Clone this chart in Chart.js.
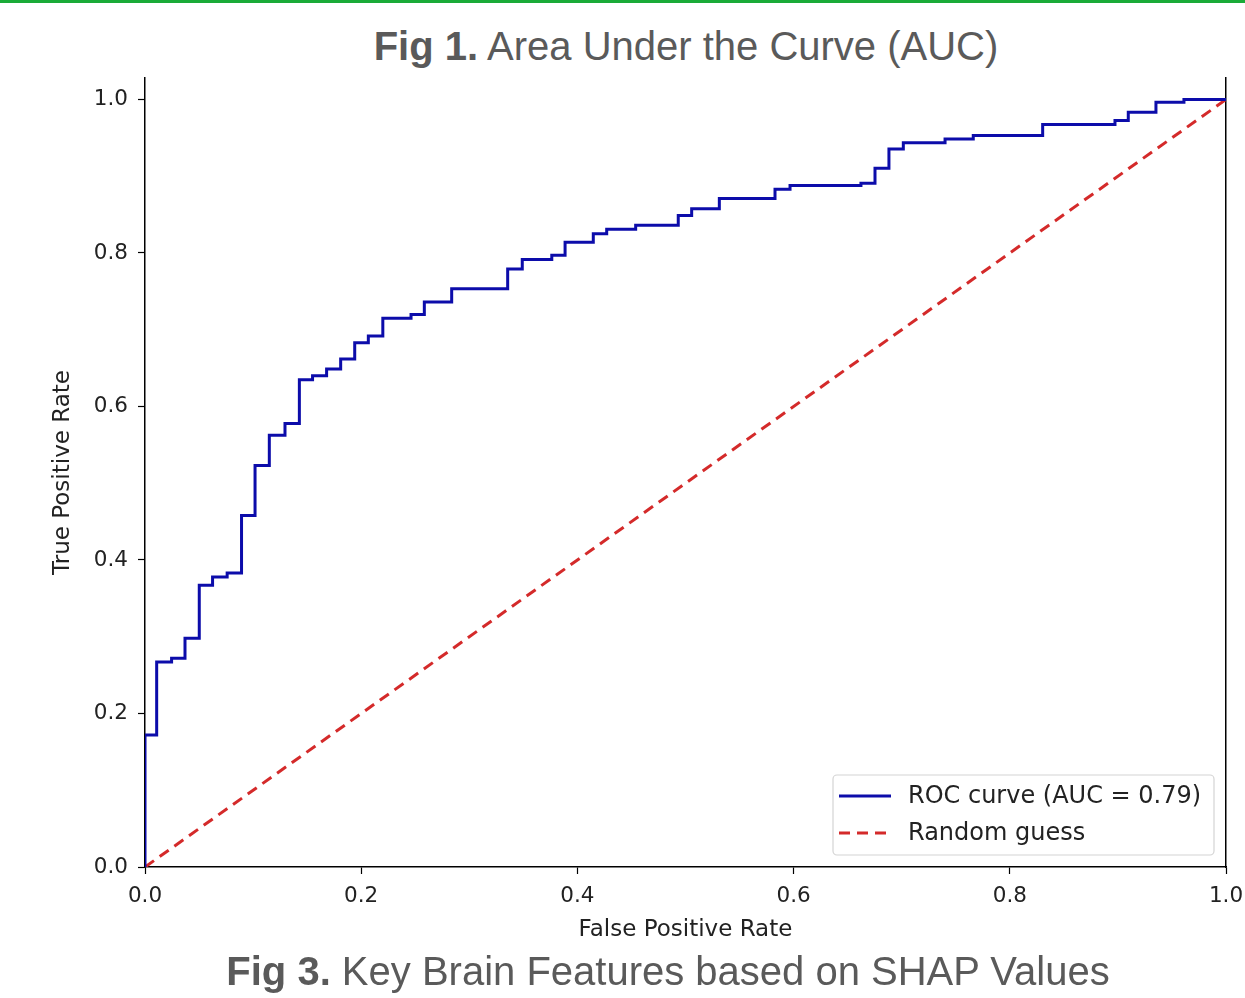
<!DOCTYPE html>
<html>
<head>
<meta charset="utf-8">
<script src="https://cdn.jsdelivr.net/npm/chart.js@4"></script>
<style>
  html, body { margin: 0; padding: 0; background: #fff; }
  #wrap { position: relative; width: 1245px; height: 998px; overflow: hidden; }
  #topbar { position: absolute; left: 0; top: 0; width: 1245px; height: 3px; background: #1aab38; }
  .fig { position: absolute; transform: translateX(-50%); white-space: nowrap;
         font-family: "Liberation Sans", Arial, sans-serif; font-size: 40px; line-height: 40px; color: #5a5a5a; }
  .fig b { font-weight: bold; }
  canvas { position: absolute; left: 0; top: 0; }
</style>
</head>
<body>
<div id="wrap">
  <div id="topbar"></div>
  <div class="fig" style="left:686px; top:26px;"><b>Fig 1.</b> Area Under the Curve (AUC)</div>
  <canvas id="roc" width="1245" height="998"></canvas>
  <div class="fig" style="left:668px; top:951px;"><b>Fig 3.</b> Key Brain Features based on SHAP Values</div>
</div>
<script>
// ROC curve points (false positive rate, true positive rate)
const fpr = [0, 0, 0.0108, 0.0246, 0.037, 0.0502, 0.0625, 0.076, 0.0893, 0.1018,
  0.115, 0.1295, 0.1428, 0.155, 0.168, 0.181, 0.194, 0.2066, 0.22, 0.2461,
  0.2584, 0.2837, 0.3355, 0.349, 0.3763, 0.3886, 0.4147, 0.4271, 0.4539, 0.4933,
  0.5057, 0.5313, 0.5828, 0.5967, 0.6623, 0.6753, 0.6882, 0.7015, 0.7401, 0.7662,
  0.8304, 0.8973, 0.9096, 0.9352, 0.9611, 1.0];
const tpr = [0, 0.172, 0.267, 0.272, 0.298, 0.367, 0.378, 0.383, 0.458, 0.523,
  0.5625, 0.578, 0.635, 0.64, 0.649, 0.662, 0.683, 0.692, 0.715, 0.72,
  0.736, 0.7535, 0.779, 0.7915, 0.797, 0.814, 0.825, 0.831, 0.836, 0.849,
  0.8575, 0.871, 0.883, 0.888, 0.891, 0.9105, 0.9355, 0.9436, 0.9486, 0.953,
  0.9674, 0.9727, 0.9834, 0.9965, 1.0, 1.0];
const randomX = [0, 1];
const randomY = [0, 1];
const xTicks = [0, 0.2, 0.4, 0.6, 0.8, 1.0];
const yTicks = [0, 0.2, 0.4, 0.6, 0.8, 1.0];
const rocLabel = 'ROC curve (AUC = 0.79)';
const randomLabel = 'Random guess';

const tickFont = { family: 'DejaVu Sans', size: 21.5 };
const titleFont = { family: 'DejaVu Sans', size: 23 };

// legend box drawn inside the plot, lower right like matplotlib
const boxLegend = {
  id: 'boxLegend',
  afterDatasetsDraw(chart) {
    const { ctx, chartArea } = chart;
    const w = 381, h = 80;
    const x = chartArea.right - 12 - w;
    const y = chartArea.bottom - 12 - h;
    ctx.save();
    ctx.beginPath();
    ctx.roundRect(x, y, w, h, 4);
    ctx.fillStyle = 'rgba(255,255,255,0.85)';
    ctx.fill();
    ctx.strokeStyle = '#d4d4d4';
    ctx.lineWidth = 1.2;
    ctx.stroke();
    ctx.font = '24px "DejaVu Sans"';
    ctx.textBaseline = 'middle';
    chart.data.datasets.forEach((ds, i) => {
      const ly = y + 21 + i * 37;
      ctx.beginPath();
      ctx.setLineDash(ds.borderDash || []);
      ctx.strokeStyle = ds.borderColor;
      ctx.lineWidth = ds.borderWidth;
      ctx.moveTo(x + 6, ly);
      ctx.lineTo(x + 58, ly);
      ctx.stroke();
      ctx.setLineDash([]);
      ctx.fillStyle = '#222';
      ctx.fillText(ds.label, x + 75, ly + 1);
    });
    ctx.restore();
  }
};

new Chart(document.getElementById('roc'), {
  type: 'line',
  data: {
    datasets: [{
      label: rocLabel,
      data: fpr.map((v, i) => ({ x: v, y: tpr[i] })),
      borderColor: '#0c0caa',
      borderWidth: 3,
      stepped: 'before',
      pointRadius: 0,
      fill: false
    }, {
      label: randomLabel,
      data: randomX.map((v, i) => ({ x: v, y: randomY[i] })),
      borderColor: '#d42a2a',
      borderWidth: 3,
      borderDash: [11, 7],
      pointRadius: 0,
      fill: false
    }]
  },
  options: {
    responsive: false,
    animation: false,
    devicePixelRatio: 1,
    layout: { padding: { top: 78, left: 0, right: 0, bottom: 0 } },
    plugins: { legend: { display: false }, tooltip: { enabled: false } },
    scales: {
      x: {
        type: 'linear',
        min: 0,
        max: 1,
        afterBuildTicks: s => { s.ticks = xTicks.map(v => ({ value: v })); },
        afterFit: s => { s.height = 131; s.paddingLeft = 0; s.paddingRight = 0; },
        ticks: { color: '#222', font: tickFont, padding: 10, maxRotation: 0,
                 callback: v => v.toFixed(1) },
        grid: { drawOnChartArea: false, tickLength: 7, color: '#000', tickWidth: 1.2 },
        border: { color: '#000', width: 1.5 },
        title: { display: true, text: 'False Positive Rate', color: '#222', font: titleFont,
                 padding: { top: 0, bottom: 54 } }
      },
      y: {
        type: 'linear',
        min: 0,
        max: 1.028,
        afterBuildTicks: s => { s.ticks = yTicks.map(v => ({ value: v })); },
        afterFit: s => { s.width = 145; s.paddingTop = 0; s.paddingBottom = 0; },
        ticks: { color: '#222', font: tickFont, padding: 10,
                 callback: v => v.toFixed(1) },
        grid: { drawOnChartArea: false, tickLength: 7, color: '#000', tickWidth: 1.2 },
        border: { color: '#000', width: 1.5 },
        title: { display: true, text: 'True Positive Rate', color: '#222', font: titleFont,
                 padding: { top: 49, bottom: 0 } }
      },
      y2: {
        type: 'linear',
        position: 'right',
        min: 0,
        max: 1.028,
        afterFit: s => { s.width = 19; },
        ticks: { display: false },
        grid: { display: false },
        border: { display: true, color: '#000', width: 1.5 }
      }
    }
  },
  plugins: [boxLegend]
});
</script>
</body>
</html>
